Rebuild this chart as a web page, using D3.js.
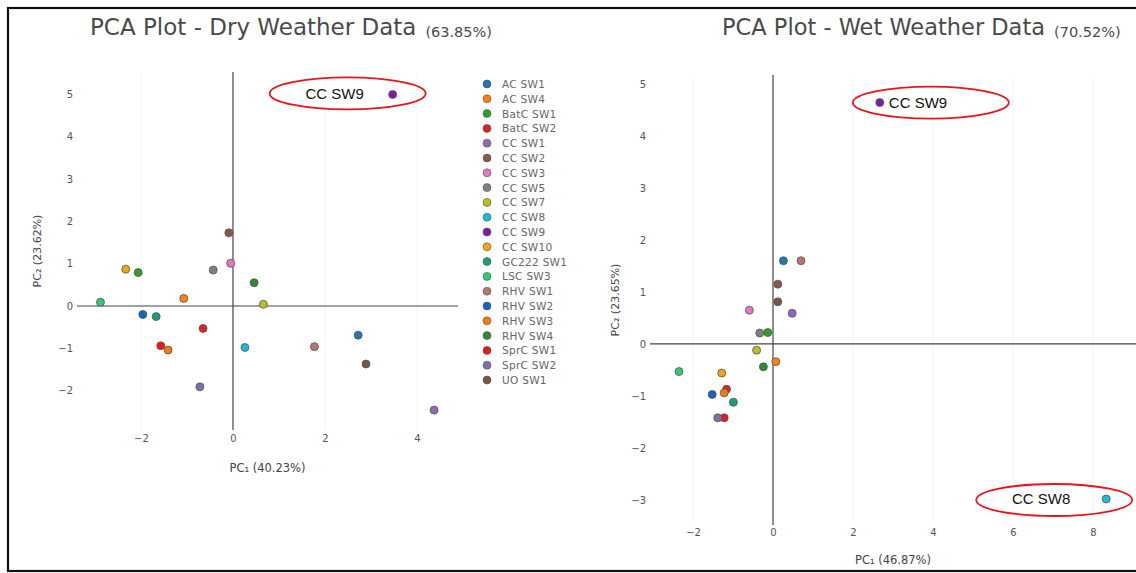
<!DOCTYPE html>
<html>
<head>
<meta charset="utf-8">
<script src="https://cdn.jsdelivr.net/npm/d3@7"></script>
<style>
  body { margin: 0; background: #fff; }
  text { font-family: "DejaVu Sans", Verdana, sans-serif; }
</style>
</head>
<body>
<svg id="chart" width="1136" height="573"></svg>
<script>
// sampling sites, legend order
const sites = ["AC SW1","AC SW4","BatC SW1","BatC SW2","CC SW1","CC SW2","CC SW3","CC SW5","CC SW7","CC SW8",
  "CC SW9","CC SW10","GC222 SW1","LSC SW3","RHV SW1","RHV SW2","RHV SW3","RHV SW4","SprC SW1","SprC SW2","UO SW1"];
const siteColors = ["#1f77b4","#ff7f0e","#2ca02c","#d62728","#9467bd","#8c564b","#e377c2","#7f7f7f","#bcbd22","#17becf",
  "#7b1fa2","#f2a60c","#1b9e77","#2ecc71","#b5776b","#1565c0","#f57c00","#2e8b2e","#e31a1c","#7d6fa8","#795548"];

// dry weather scores
const dryPC1 = [2.72,-1.07,-2.06,-0.65,4.37,-0.09,-0.05,-0.43,0.66,0.26,3.47,-2.33,-1.67,-2.88,1.77,-1.96,-1.41,0.46,-1.57,-0.72,2.89];
const dryPC2 = [-0.69,0.18,0.79,-0.53,-2.46,1.73,1.01,0.85,0.04,-0.98,5.0,0.87,-0.25,0.09,-0.96,-0.2,-1.04,0.55,-0.94,-1.91,-1.37];

// wet weather scores
const wetPC1 = [0.26,0.07,-0.13,-1.16,0.48,0.12,-0.59,-0.33,-0.41,8.33,2.67,-1.28,-0.99,-2.35,0.70,-1.52,-1.22,-0.24,-1.22,-1.38,0.12];
const wetPC2 = [1.60,-0.34,0.22,-0.87,0.59,1.15,0.65,0.21,-0.12,-2.98,4.64,-0.56,-1.12,-0.53,1.60,-0.97,-0.94,-0.44,-1.42,-1.42,0.81];

const dryXTicks = [-2,0,2,4];
const dryYTicks = [-2,-1,0,1,2,3,4,5];
const wetXTicks = [-2,0,2,4,6,8];
const wetYTicks = [-3,-2,-1,0,1,2,3,4,5];

const svg = d3.select("#chart");

// outer frame
svg.append("rect")
  .attr("x", 8).attr("y", 8).attr("width", 1140).attr("height", 563)
  .attr("fill", "none").attr("stroke", "#111").attr("stroke-width", 2.2);

function drawPanel(p) {
  const x = d3.scaleLinear().domain(p.xDomain).range(p.xRange);
  const y = d3.scaleLinear().domain(p.yDomain).range(p.yRange);
  const g = svg.append("g");

  // faint grid
  g.selectAll(".grid").data(p.xTicks.filter(d => d !== 0)).enter().append("line")
    .attr("x1", d => x(d)).attr("x2", d => x(d))
    .attr("y1", p.yRange[1]).attr("y2", p.yRange[0])
    .attr("stroke", "#f3f3f3");

  // tick labels only
  g.append("g")
    .attr("transform", `translate(0,${p.yRange[0]})`)
    .call(d3.axisBottom(x).tickValues(p.xTicks).tickSize(0).tickPadding(p.xPad))
    .call(a => a.select(".domain").remove())
    .selectAll("text").attr("fill", "#555").style("font-size", "10px");
  g.append("g")
    .attr("transform", `translate(${p.xRange[0]},0)`)
    .call(d3.axisLeft(y).tickValues(p.yTicks).tickSize(0).tickPadding(p.yPad))
    .call(a => a.select(".domain").remove())
    .selectAll("text").attr("fill", "#555").style("font-size", "10px");

  // zero lines
  g.append("line")
    .attr("x1", x(0)).attr("x2", x(0)).attr("y1", p.yRange[1]).attr("y2", p.yRange[0])
    .attr("stroke", "#444").attr("stroke-width", 1.2);
  g.append("line")
    .attr("x1", p.xRange[0]).attr("x2", p.xRange[1]).attr("y1", y(0)).attr("y2", y(0))
    .attr("stroke", "#444").attr("stroke-width", 1.2);

  // points
  g.selectAll(".pt").data(sites).enter().append("circle")
    .attr("cx", (d, i) => x(p.pc1[i]))
    .attr("cy", (d, i) => y(p.pc2[i]))
    .attr("r", 4)
    .attr("fill", (d, i) => siteColors[i])
    .attr("stroke", "#555").attr("stroke-width", 0.8);

  // axis titles
  g.append("text")
    .attr("x", (p.xRange[0] + p.xRange[1]) / 2).attr("y", p.xTitleY)
    .attr("text-anchor", "middle").attr("fill", "#444").style("font-size", "11.5px")
    .text(p.xTitle);
  g.append("text")
    .attr("transform", `translate(${p.yTitleX},${(p.yRange[0] + p.yRange[1]) / 2}) rotate(-90)`)
    .attr("text-anchor", "middle").attr("fill", "#444").style("font-size", "11px")
    .text(p.yTitle);

  // chart title
  const t = g.append("text").attr("x", p.titleX).attr("y", 35).attr("fill", "#4a4a4a");
  t.append("tspan").style("font-size", p.titleSize).text(p.title);
  t.append("tspan").attr("dx", 9).attr("dy", 2).style("font-size", "14.5px").text(p.titlePct);

  // red call-outs
  p.callouts.forEach(c => {
    const i = sites.indexOf(c.site);
    const px = x(p.pc1[i]), py = y(p.pc2[i]);
    g.append("ellipse")
      .attr("cx", px + c.dx).attr("cy", py + c.dy).attr("rx", 78).attr("ry", 16)
      .attr("fill", "none").attr("stroke", "#e8141c").attr("stroke-width", 1.8);
    g.append("text")
      .attr("x", px + c.tx).attr("y", py + 5)
      .attr("text-anchor", c.anchor)
      .style("font-family", "'Liberation Sans', Arial, sans-serif").style("font-size", "15px")
      .attr("fill", "#111")
      .text(c.site);
  });
  return {x, y};
}

drawPanel({
  pc1: dryPC1, pc2: dryPC2,
  xDomain: [-3.39, 4.89], xRange: [77, 458],
  yDomain: [-2.93, 5.53], yRange: [430, 72],
  xTicks: dryXTicks, yTicks: dryYTicks, xPad: 5, yPad: 4,
  xTitle: "PC\u2081 (40.23%)", xTitleY: 472,
  yTitle: "PC\u2082 (23.62%)", yTitleX: 41,
  title: "PCA Plot - Dry Weather Data", titlePct: "(63.85%)", titleX: 90, titleSize: "23px",
  callouts: [{site: "CC SW9", dx: -45, dy: -1, tx: -58, anchor: "middle"}]
});

drawPanel({
  pc1: wetPC1, pc2: wetPC2,
  xDomain: [-3.075, 9.075], xRange: [650, 1136],
  yDomain: [-3.48, 5.17], yRange: [525, 75],
  xTicks: wetXTicks, yTicks: wetYTicks, xPad: 4, yPad: 4,
  xTitle: "PC\u2081 (46.87%)", xTitleY: 564,
  yTitle: "PC\u2082 (23.65%)", yTitleX: 619,
  title: "PCA Plot - Wet Weather Data", titlePct: "(70.52%)", titleX: 722, titleSize: "22.5px",
  callouts: [
    {site: "CC SW9", dx: 51, dy: 0, tx: 9, anchor: "start"},
    {site: "CC SW8", dx: -52, dy: 1, tx: -65, anchor: "middle"}
  ]
});

// legend (dry panel)
const legend = svg.append("g");
const ly = d3.scalePoint().domain(sites).range([84, 380]);
legend.selectAll("circle").data(sites).enter().append("circle")
  .attr("cx", 487).attr("cy", d => ly(d)).attr("r", 4)
  .attr("fill", (d, i) => siteColors[i]).attr("stroke", "#555").attr("stroke-width", 0.6);
legend.selectAll("text").data(sites).enter().append("text")
  .attr("x", 502).attr("y", d => ly(d) + 4)
  .attr("fill", "#666").style("font-size", "10.5px").style("letter-spacing", "0.3px")
  .text(d => d);
</script>
</body>
</html>
